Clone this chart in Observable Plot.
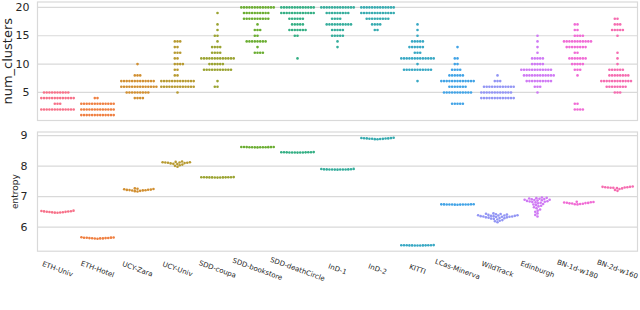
<!DOCTYPE html>
<html><head><meta charset="utf-8">
<script src="https://cdn.jsdelivr.net/npm/d3@7"></script>
<script src="https://cdn.jsdelivr.net/npm/@observablehq/plot@0.6"></script>
<style>
body{margin:0;background:#fff;}
#chart{width:640px;height:310px;overflow:hidden;background:#fff;}
svg{display:block;}
</style></head><body><div id="chart"></div>
<script>
const categories = ["ETH-Univ","ETH-Hotel","UCY-Zara","UCY-Univ","SDD-coupa","SDD-bookstore","SDD-deathCircle","InD-1","InD-2","KITTI","LCas-Minerva","WildTrack","Edinburgh","BN-1d-w180","BN-2d-w160"];
const palette = ["#f77189","#ef7f40","#d18f31","#b79a31","#9aa331","#6aad31","#34af84","#35ad9c","#36abb0","#38a8c4","#41a3e6","#9295f4","#cf79f4","#f06bd5","#f56cb0"];

// num_clusters: [value, number of runs]
const clustersETHUniv = [[2,13],[3,3],[4,13],[5,10]];
const clustersETHHotel = [[1,13],[2,13],[3,13],[4,2]];
const clustersUCYZara = [[4,4],[5,9],[6,14],[7,13],[8,3],[10,1]];
const clustersUCYUniv = [[5,1],[6,13],[7,13],[8,2],[9,2],[10,4],[11,2],[12,3],[13,2],[14,3]];
const clustersSDDcoupa = [[6,2],[7,1],[9,11],[10,6],[11,13],[12,4],[13,4],[14,1],[15,2],[16,1],[17,1],[19,1]];
const clustersSDDbookstore = [[12,4],[13,1],[14,8],[15,2],[16,3],[17,1],[18,10],[19,10],[20,13]];
const clustersSDDdeathCircle = [[11,1],[15,2],[16,7],[17,5],[18,6],[19,13],[20,13]];
const clustersInD1 = [[13,1],[14,1],[15,5],[16,5],[17,10],[18,4],[19,9],[20,13]];
const clustersInD2 = [[16,2],[17,4],[18,9],[19,13],[20,13]];
const clustersKITTI = [[7,1],[9,11],[10,1],[11,13],[12,3],[13,6],[14,5],[15,1],[16,1],[17,1]];
const clustersLCas = [[3,5],[5,11],[6,7],[7,13],[8,6],[9,4],[10,2],[11,2],[13,1]];
const clustersWildTrack = [[4,13],[5,12],[6,12],[7,3],[8,1]];
const clustersEdinburgh = [[5,1],[6,3],[7,10],[8,12],[9,12],[10,5],[11,5],[12,1],[13,1],[14,1],[15,1]];
const clustersBN1d = [[2,4],[3,2],[8,1],[9,3],[10,5],[11,7],[12,2],[13,8],[14,11],[15,4],[16,2],[17,2]];
const clustersBN2d = [[5,3],[6,8],[7,12],[8,8],[9,6],[10,1],[11,1],[12,1],[15,1],[16,5],[17,3],[18,2]];
const clusterRows = [clustersETHUniv,clustersETHHotel,clustersUCYZara,clustersUCYUniv,clustersSDDcoupa,clustersSDDbookstore,clustersSDDdeathCircle,clustersInD1,clustersInD2,clustersKITTI,clustersLCas,clustersWildTrack,clustersEdinburgh,clustersBN1d,clustersBN2d];

// entropy of each run
const entropyETHUniv = [6.47,6.475,6.48,6.485,6.49,6.495,6.5,6.505,6.51,6.515,6.52,6.53,6.54];
const entropyETHHotel = [5.62,5.625,5.63,5.63,5.635,5.64,5.64,5.645,5.65,5.65,5.655,5.66,5.67];
const entropyUCYZara = [7.17,7.18,7.19,7.2,7.205,7.21,7.215,7.22,7.225,7.23,7.24,7.25,7.26,7.27];
const entropyUCYUniv = [7.98,8.01,8.03,8.05,8.07,8.08,8.09,8.1,8.11,8.11,8.12,8.12,8.13,8.13,8.14,8.15];
const entropySDDcoupa = [7.625,7.627,7.628,7.63,7.63,7.63,7.632,7.633,7.634,7.635,7.636,7.637,7.64];
const entropySDDbookstore = [8.615,8.617,8.618,8.62,8.62,8.62,8.622,8.623,8.624,8.625,8.626,8.627,8.63];
const entropySDDdeathCircle = [8.445,8.447,8.448,8.45,8.45,8.45,8.452,8.453,8.454,8.455,8.456,8.457,8.46];
const entropyInD1 = [7.885,7.887,7.888,7.89,7.89,7.89,7.892,7.893,7.894,7.895,7.9,7.905,7.91];
const entropyInD2 = [8.88,8.885,8.89,8.895,8.9,8.9,8.905,8.91,8.91,8.915,8.92,8.925,8.93];
const entropyKITTI = [5.395,5.397,5.398,5.4,5.4,5.4,5.402,5.403,5.404,5.405,5.406,5.407,5.41];
const entropyLCas = [6.735,6.737,6.738,6.74,6.74,6.74,6.742,6.743,6.744,6.745,6.746,6.747,6.75];
const entropyWildTrack = [6.16,6.19,6.21,6.23,6.25,6.27,6.28,6.29,6.3,6.31,6.32,6.32,6.33,6.34,6.34,6.35,6.35,6.36,6.36,6.37,6.37,6.38,6.38,6.39,6.39,6.4,6.41,6.42,6.43,6.44,6.45];
const entropyEdinburgh = [6.35,6.4,6.45,6.5,6.54,6.58,6.62,6.65,6.68,6.7,6.72,6.74,6.76,6.78,6.8,6.81,6.82,6.83,6.84,6.85,6.86,6.87,6.88,6.89,6.9,6.9,6.91,6.92,6.93,6.94,6.95,6.96,6.97];
const entropyBN1d = [6.745,6.752,6.759,6.766,6.773,6.78,6.787,6.794,6.801,6.808,6.815,6.822,6.83];
const entropyBN2d = [7.19,7.22,7.25,7.27,7.28,7.29,7.29,7.3,7.3,7.31,7.31,7.32,7.32,7.33];
const entropyValues = [entropyETHUniv,entropyETHHotel,entropyUCYZara,entropyUCYUniv,entropySDDcoupa,entropySDDbookstore,entropySDDdeathCircle,entropyInD1,entropyInD2,entropyKITTI,entropyLCas,entropyWildTrack,entropyEdinburgh,entropyBN1d,entropyBN2d];

const clusterTicks = [5,10,15,20];
const entropyTicks = [6,7,8,9];

const clusterData = categories.flatMap((c,i)=>clusterRows[i].flatMap(([v,n])=>Array.from({length:n},()=>({cat:c,value:v})))).sort((a,b)=>a.value-b.value);
const entropyData = categories.flatMap((c,i)=>entropyValues[i].map(v=>({cat:c,value:v}))).sort((a,b)=>a.value-b.value);

const font = "'DejaVu Sans', sans-serif";
const grid = "#d9d9d9";
const swarm = {anchor:"middle", padding:0.1};

const topPlot = Plot.plot({
  width:640, height:122, marginLeft:36, marginRight:2, marginTop:1.5, marginBottom:2,
  style:{fontFamily:font, color:"#262626", background:"white", overflow:"visible"},
  fx:{domain:categories, padding:0, axis:null},
  y:{domain:[0.05,20.95]},
  color:{domain:categories, range:palette},
  marks:[
    Plot.gridY(clusterTicks, {stroke:grid, strokeOpacity:1, strokeWidth:1.2}),
    Plot.frame({facet:"super", stroke:grid, strokeWidth:1.2}),
    Plot.axisY(clusterTicks, {tickSize:0, tickPadding:8, fontSize:11, label:"num_clusters", labelAnchor:"center", labelArrow:"none", labelOffset:35}),
    Plot.dot(clusterData, Plot.dodgeX(swarm, {fx:"cat", y:"value", fill:"cat", r:1.3}))
  ]
});

const bottomPlot = Plot.plot({
  width:640, height:188, marginLeft:36, marginRight:2, marginTop:9.5, marginBottom:59.3,
  style:{fontFamily:font, color:"#262626", background:"white", overflow:"visible"},
  fx:{domain:categories, padding:0, axis:null},
  y:{domain:[5.21,9.12]},
  color:{domain:categories, range:palette},
  marks:[
    Plot.gridY(entropyTicks, {stroke:grid, strokeOpacity:1, strokeWidth:1.2}),
    Plot.frame({facet:"super", stroke:grid, strokeWidth:1.2}),
    Plot.axisY(entropyTicks, {tickSize:0, tickPadding:10, fontSize:11, label:"entropy", labelAnchor:"center", labelArrow:"none", labelOffset:26}),
    Plot.dot(entropyData, Plot.dodgeX(swarm, {fx:"cat", y:"value", fill:"cat", r:1.3})),
    Plot.text(categories, {fx:d=>d, text:d=>d, frameAnchor:"bottom", dy:18, rotate:20, textAnchor:"middle", lineAnchor:"middle", fontSize:7, fill:"#262626", ariaLabel:"xlabels"})
  ]
});

const host = document.getElementById("chart");
host.appendChild(topPlot);
host.appendChild(bottomPlot);

// matplotlib-like placement: rotated label's bounding box top aligned just below the axes
const sin = Math.sin(20*Math.PI/180), cos = Math.cos(20*Math.PI/180);
const labelTop = 259 - 122;
bottomPlot.querySelectorAll('g[aria-label="xlabels"] text').forEach(t=>{
  const L = t.getComputedTextLength();
  const h = 7*1.16;
  const m = /translate\(([-\d.]+),([-\d.]+)\)/.exec(t.getAttribute("transform")||"");
  if (!m) return;
  const cy = labelTop + (L*sin + h*cos)/2;
  t.setAttribute("transform", `translate(${m[1]},${cy}) rotate(20)`);
});
topPlot.querySelectorAll('g[aria-label="y-axis label"] text').forEach(t=>t.setAttribute("font-size","13"));
bottomPlot.querySelectorAll('g[aria-label="y-axis label"] text').forEach(t=>t.setAttribute("font-size","9"));
</script></body></html>
